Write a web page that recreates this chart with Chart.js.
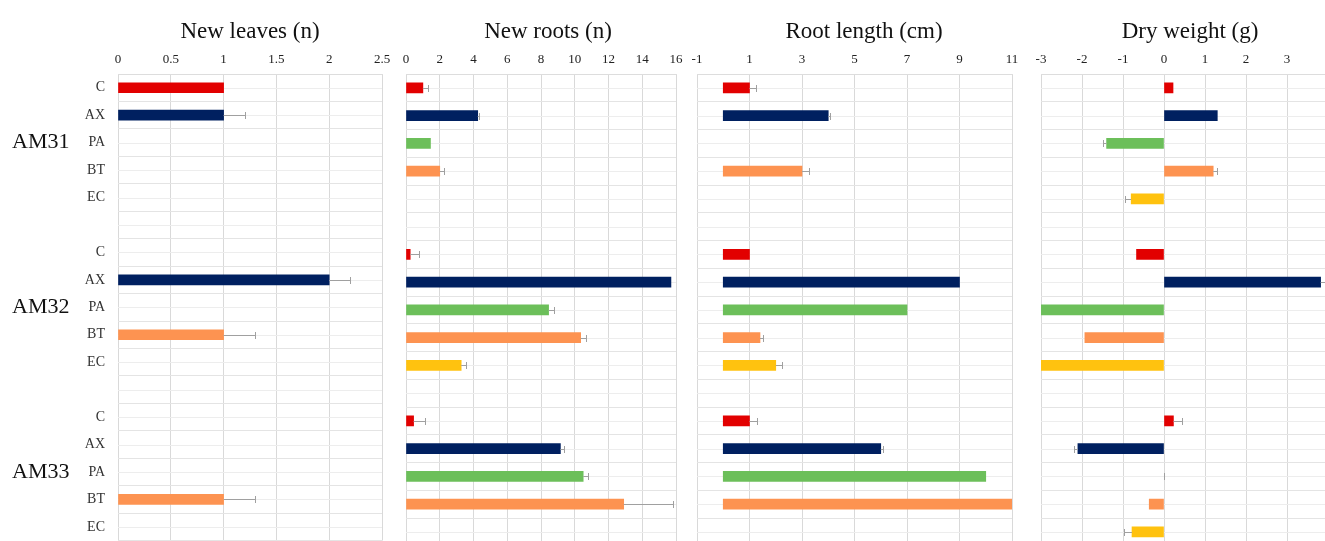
<!DOCTYPE html>
<html>
<head>
<meta charset="utf-8">
<script src="https://cdn.jsdelivr.net/npm/chart.js@4.4.1/dist/chart.umd.min.js"></script>
<style>
  html, body { margin: 0; padding: 0; width: 1325px; height: 541px; overflow: hidden; background: #ffffff; }
  canvas { position: absolute; top: 0; }
</style>
</head>
<body>
<canvas id="leaves"></canvas>
<canvas id="roots"></canvas>
<canvas id="rootLength"></canvas>
<canvas id="dryWeight"></canvas>
<script>
// Treatments per strain; blank entries separate the three strains
const categories = ['C', 'AX', 'PA', 'BT', 'EC', '', 'C', 'AX', 'PA', 'BT', 'EC', '', 'C', 'AX', 'PA', 'BT', 'EC'];
const groupNames = ['AM31', 'AM32', 'AM33'];

// New leaves (n)
const newLeaves    = [1, 1, 0, 0, 0, null, 0, 2, 0, 1, 0, null, 0, 0, 0, 1, 0];
const newLeavesErr = [0, 0.2, 0, 0, 0, null, 0, 0.2, 0, 0.3, 0, null, 0, 0, 0, 0.3, 0];
const leavesTicks  = [0, 0.5, 1, 1.5, 2, 2.5];

// New roots (n)
const newRoots    = [1.0, 4.25, 1.45, 2.0, 0, null, 0.25, 15.7, 8.45, 10.35, 3.27, null, 0.45, 9.15, 10.5, 12.9, 0];
const newRootsErr = [0.33, 0.1, 0, 0.25, 0, null, 0.5, 0, 0.3, 0.33, 0.3, null, 0.7, 0.2, 0.27, 2.95, 0];
const rootsTicks  = [0, 2, 4, 6, 8, 10, 12, 14, 16];

// Root length (cm)
const rootLength    = [1, 4, 0, 3, 0, null, 1, 9, 7, 1.4, 2, null, 1, 6, 10, 11, 0];
const rootLengthErr = [0.25, 0.06, 0, 0.25, 0, null, 0, 0, 0, 0.12, 0.25, null, 0.3, 0.1, 0, 0, 0];
const lengthTicks   = [-1, 1, 3, 5, 7, 9, 11];

// Dry weight (g)
const dryWeight    = [0.22, 1.3, -1.4, 1.2, -0.8, null, -0.67, 3.82, -3, -1.93, -3, null, 0.23, -2.1, 0, -0.36, -0.78];
const dryWeightErr = [0, 0, 0.1, 0.1, 0.15, null, 0, 0.15, 0, 0, 0, null, 0.2, 0.1, 0.01, 0, 0.2];
const weightTicks  = [-3, -2, -1, 0, 1, 2, 3, 4];

const treatmentColors = { C: '#e20000', AX: '#002060', PA: '#6cbf5a', BT: '#fd9351', EC: '#ffc20f' };

const SERIF = "'Liberation Serif', 'Times New Roman', serif";
Chart.defaults.font.family = SERIF;
Chart.defaults.color = '#222222';

const PAD_TOP = 18;
const TITLE_SIZE = 23;
const TITLE_H = TITLE_SIZE * 1.2;
const PLOT_TOP = 74;
const ROW = 27.75;
const CANVAS_H = 562;
const PLOT_BOTTOM = PLOT_TOP + categories.length * ROW;

// Plus-direction error bars with an end cap
const errorBars = {
  id: 'errorBars',
  afterDatasetsDraw(chart, args, opts) {
    const errs = opts.values;
    if (!errs) return;
    const meta = chart.getDatasetMeta(0);
    const xs = chart.scales.x;
    const data = chart.data.datasets[0].data;
    const ctx = chart.ctx;
    ctx.save();
    ctx.strokeStyle = '#a0a0a0';
    ctx.lineWidth = 1;
    data.forEach((v, i) => {
      const e = errs[i];
      if (v === null || !e) return;
      const dir = v < 0 ? -1 : 1;
      const y = Math.round(meta.data[i].y) + 0.5;
      const x0 = xs.getPixelForValue(v);
      const x1 = Math.round(xs.getPixelForValue(v + dir * e)) + 0.5;
      ctx.beginPath();
      ctx.moveTo(x0, y); ctx.lineTo(x1, y);
      ctx.moveTo(x1, y - 3.5); ctx.lineTo(x1, y + 3.5);
      ctx.stroke();
    });
    ctx.restore();
  }
};

// Faint minor lines through the middle of each row
const rowLines = {
  id: 'rowLines',
  beforeDatasetsDraw(chart) {
    const ys = chart.scales.y;
    const area = chart.chartArea;
    const ctx = chart.ctx;
    ctx.save();
    ctx.strokeStyle = '#ededed';
    ctx.lineWidth = 1;
    categories.forEach((c, i) => {
      const y = Math.round(ys.getPixelForValue(i)) + 0.5;
      ctx.beginPath();
      ctx.moveTo(area.left, y); ctx.lineTo(area.right, y);
      ctx.stroke();
    });
    ctx.restore();
  }
};

// Strain names beside their treatment rows
const groupLabels = {
  id: 'groupLabels',
  afterDraw(chart, args, opts) {
    if (!opts.names) return;
    const ys = chart.scales.y;
    const ctx = chart.ctx;
    const middles = categories.map((c, i) => c === 'PA' ? i : -1).filter(i => i >= 0);
    ctx.save();
    ctx.font = '22px ' + SERIF;
    ctx.fillStyle = '#111111';
    ctx.textAlign = 'left';
    ctx.textBaseline = 'middle';
    opts.names.forEach((name, g) => {
      ctx.fillText(name, 12, ys.getPixelForValue(middles[g]));
    });
    ctx.restore();
  }
};

function makePanel(p) {
  const canvas = document.getElementById(p.id);
  canvas.width = p.width;
  canvas.height = CANVAS_H;
  canvas.style.left = p.left + 'px';
  canvas.style.width = p.width + 'px';
  canvas.style.height = CANVAS_H + 'px';

  const colors = categories.map(c => treatmentColors[c] || 'rgba(0,0,0,0)');

  return new Chart(canvas, {
    type: 'bar',
    data: {
      labels: categories,
      datasets: [{
        data: p.values,
        // zero-length bars stay invisible
        backgroundColor: ctx => (ctx.raw ? colors[ctx.dataIndex] : 'rgba(0,0,0,0)'),
        borderWidth: 0,
        barThickness: 10
      }]
    },
    options: {
      indexAxis: 'y',
      responsive: false,
      animation: false,
      devicePixelRatio: 1,
      layout: { padding: { top: PAD_TOP, bottom: CANVAS_H - PLOT_BOTTOM, left: p.padL, right: p.padR } },
      scales: {
        x: {
          type: 'linear',
          position: 'top',
          min: p.ticks[0],
          max: p.ticks[p.ticks.length - 1],
          grid: { color: '#d9d9d9', drawTicks: false },
          border: { display: true, color: '#dddddd' },
          ticks: {
            padding: 7,
            font: { size: 13 },
            color: '#222222',
            autoSkip: false,
            maxRotation: 0,
            callback: v => String(v)
          },
          afterBuildTicks: s => { s.ticks = p.ticks.map(v => ({ value: v })); },
          afterFit: s => { s.height = PLOT_TOP - PAD_TOP - TITLE_H; }
        },
        y: {
          type: 'category',
          position: p.showCategories ? 'left' : 'right',
          offset: true,
          grid: { color: '#e4e4e4', drawTicks: false, offset: true },
          border: { display: false },
          ticks: {
            display: p.showCategories,
            padding: 13,
            font: { size: 14 },
            color: '#333333',
            autoSkip: false
          },
          afterFit: s => { s.width = p.axisWidth; }
        }
      },
      plugins: {
        legend: { display: false },
        tooltip: { enabled: false },
        title: {
          display: true,
          text: p.title,
          fullSize: p.fullTitle,
          color: '#111111',
          font: { size: TITLE_SIZE, weight: 'normal', lineHeight: 1.2 },
          padding: { top: 0, bottom: 0 }
        },
        errorBars: { values: p.errs },
        groupLabels: { names: p.groups }
      }
    },
    plugins: [rowLines, errorBars, groupLabels]
  });
}

makePanel({ id: 'leaves', left: 0, width: 400, padL: 0, padR: 18, axisWidth: 118, showCategories: true,
  fullTitle: false, title: 'New leaves (n)', values: newLeaves, errs: newLeavesErr, ticks: leavesTicks, groups: groupNames });
makePanel({ id: 'roots', left: 394, width: 302, padL: 12, padR: 6, axisWidth: 14, showCategories: false,
  fullTitle: true, title: 'New roots (n)', values: newRoots, errs: newRootsErr, ticks: rootsTicks, groups: null });
makePanel({ id: 'rootLength', left: 681, width: 356, padL: 16, padR: 6, axisWidth: 19, showCategories: false,
  fullTitle: true, title: 'Root length (cm)', values: rootLength, errs: rootLengthErr, ticks: lengthTicks, groups: null });
makePanel({ id: 'dryWeight', left: 1025, width: 322, padL: 16, padR: 8, axisWidth: 11, showCategories: false,
  fullTitle: true, title: 'Dry weight (g)', values: dryWeight, errs: dryWeightErr, ticks: weightTicks, groups: null });
</script>
</body>
</html>
